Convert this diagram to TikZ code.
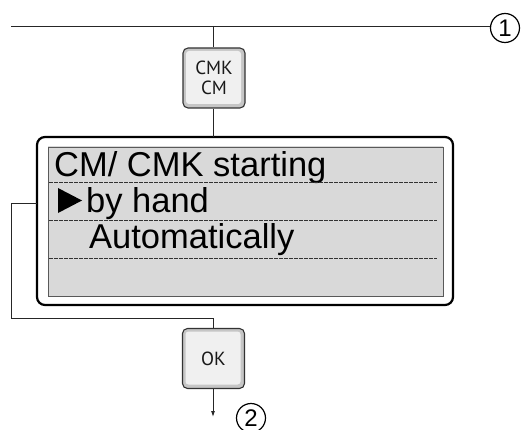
\documentclass[tikz,border=0pt]{standalone}
\usepackage{fontspec}
\setmainfont{Liberation Sans}
\newfontfamily\keyfont{PT Sans}
\usetikzlibrary{arrows.meta,shapes.geometric}
\tikzset{
  conn/.style={line width=0.9pt, black!85},
  keybox/.style={draw=black!80, line width=1.1pt, fill=gray!45, rounded corners=5pt,
    minimum width=62pt, minimum height=60pt, inner sep=0pt,
    font=\keyfont\fontsize{19}{20}\selectfont, text=black!90, align=center,
    path picture={\fill[gray!12, rounded corners=3pt]
      ([xshift=3pt,yshift=-3pt]path picture bounding box.north west) rectangle
      ([xshift=-4pt,yshift=4pt]path picture bounding box.south east);}},
  numcirc/.style={circle, draw, line width=1.2pt, minimum size=29pt, inner sep=0pt,
    font=\fontsize{24}{24}\selectfont},
  disptext/.style={anchor=base west, inner sep=0pt, font=\fontsize{34.5}{34.5}\selectfont},
  sep/.style={black!80, line width=0.8pt, dash pattern=on 4pt off 1pt}
}
\begin{document}
\begin{tikzpicture}[x=1pt,y=-1pt]
\useasboundingbox (0,0) rectangle (521,430);
% top line and circled 1
\coordinate (tl) at (11,26);
\coordinate (j) at (213,26);
\node[numcirc] (c1) at (505,28) {1};
\draw[conn] (tl) -- (c1.west |- tl);
% CMK key
\node[keybox] (cmk) at (214,78) {CMK\\CM};
\draw[conn] (j) -- (j |- cmk.north);
% display
\draw[line width=2.2pt, rounded corners=8pt, fill=white] (37,137) rectangle (453,305);
\shade[shading=axis, shading angle=60, left color=gray!30, middle color=gray!4, right color=gray!30]
  (48,147) rectangle (443,296);
\draw[gray!70!black, line width=0.8pt] (48,147) rectangle (443,296);
\coordinate (dtop) at (213,137);
\draw[conn] (cmk.south -| dtop) -- (dtop);
% rows
\node[disptext] (t1) at (54,177) {CM/ CMK starting};
\draw[sep] (49,182) -- (437,182);
\fill (58,188) -- (82,200.5) -- (58,213) -- cycle;
\node[disptext] (t2) at (86,212) {by hand};
\draw[sep] (49,220) -- (437,220);
\node[disptext] (t3) at (89,248) {Automatically};
\draw[sep] (49,258) -- (437,258);
% loop to OK
\coordinate (lp) at (37,203);
\coordinate (l1) at (11,203);
\coordinate (l2) at (11,318);
\coordinate (l3) at (213,318);
\node[keybox] (ok) at (213.5,358.5) {OK};
\draw[conn] (lp) -- (l1) -- (l2) -- (l3) -- (l3 |- ok.north);
\coordinate (ae) at (213,417);
\draw[conn, -{Latex[length=6pt,width=4pt]}] (ae |- ok.south) -- (ae);
\node[numcirc] (c2) at (251,418) {2};
\end{tikzpicture}
\end{document}
